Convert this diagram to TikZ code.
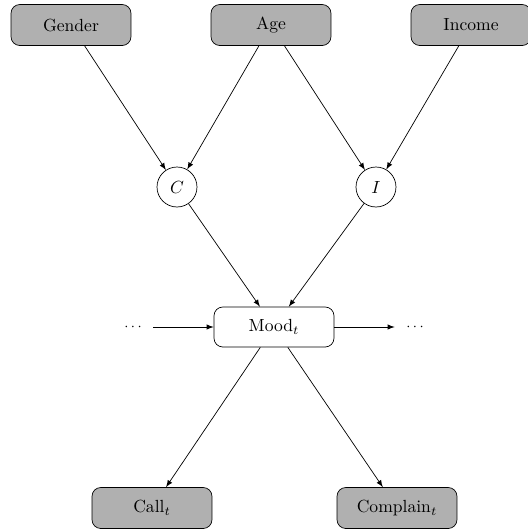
\documentclass[tikz,border=0pt]{standalone}
\usetikzlibrary{arrows}

\definecolor{obsgray}{RGB}{176,176,176}

\tikzset{
  observed/.style={draw, rounded corners=5pt, fill=obsgray, minimum width=2.4cm, minimum height=0.82cm},
  latent/.style={draw, rounded corners=5pt, fill=white, minimum width=2.4cm, minimum height=0.8cm},
  factor/.style={draw, circle, minimum size=0.8cm, inner sep=0pt},
  dotsnode/.style={minimum width=0.8cm, inner sep=0pt, font=\footnotesize}
}

\begin{document}
\begin{tikzpicture}[x=0.02cm, y=-0.02cm, >=latex]
\useasboundingbox (0,0) rectangle (528,529);
% observed covariates
\node[observed] (gender) at (71,25) {Gender};
\node[observed] (age) at (271,25) {Age};
\node[observed] (income) at (471,25) {Income};
% derived factors
\node[factor] (c) at (177,187) {$C$};
\node[factor] (i) at (376,187) {$I$};
% hidden state
\node[latent] (mood) at (274,327) {Mood$_t$};
\node[dotsnode] (prev) at (133,327) {$\cdots$};
\node[dotsnode] (next) at (415,327) {$\cdots$};
% observations
\node[observed] (call) at (152,508) {Call$_t$};
\node[observed] (complain) at (397,508) {Complain$_t$};

\draw[->] (gender) -- (c);
\draw[->] (age) -- (c);
\draw[->] (age) -- (i);
\draw[->] (income) -- (i);
\draw[->] (c) -- (mood);
\draw[->] (i) -- (mood);
\draw[->] (prev) -- (mood);
\draw[->] (mood) -- (next);
\draw[->] (mood) -- (call);
\draw[->] (mood) -- (complain);
\end{tikzpicture}
\end{document}
